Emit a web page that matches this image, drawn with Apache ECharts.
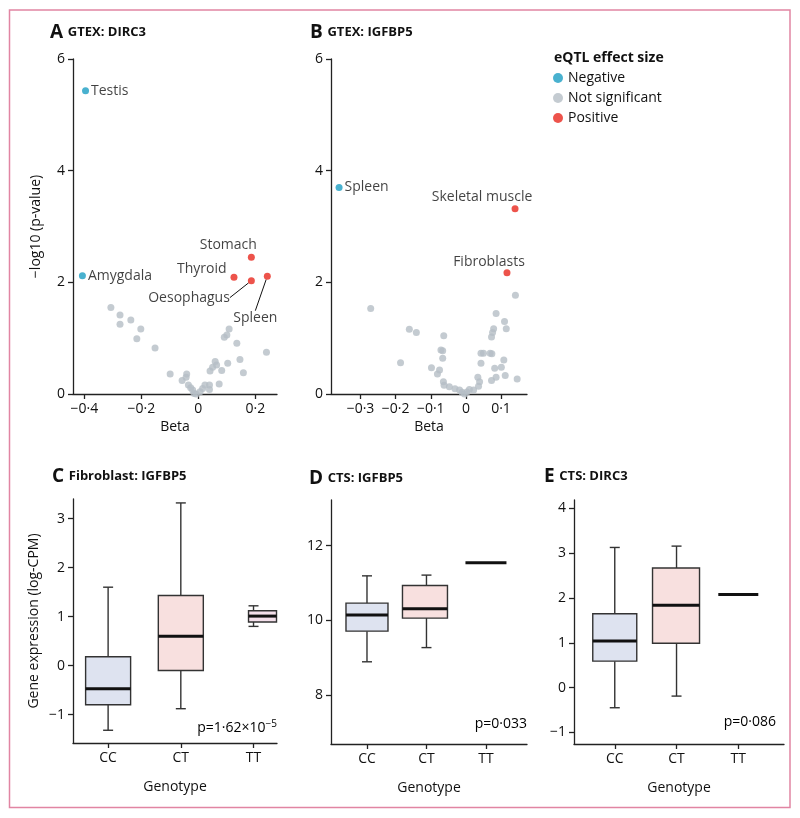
<!DOCTYPE html>
<html><head><meta charset="utf-8">
<script src="https://cdn.jsdelivr.net/npm/echarts@6/dist/echarts.min.js"></script>
<style>html,body{margin:0;padding:0;background:#fff}#c{width:800px;height:818px}</style>
</head><body><div id="c"></div>
<script>
// ---------- DATA ----------
// Panel A: GTEX DIRC3  (beta, -log10 p)
const dircNotSig = [[-0.307,1.55],[-0.275,1.415],[-0.275,1.25],[-0.237,1.325],[-0.202,1.164],[-0.216,0.99],[-0.152,0.824],[-0.099,0.358],[-0.057,0.24],[-0.041,0.358],[-0.043,0.30],[-0.035,0.16],[-0.027,0.11],[-0.020,0.07],[-0.015,0.01],[-0.008,0.0],[0.006,0.04],[0.015,0.10],[0.023,0.16],[0.039,0.08],[0.039,0.16],[0.073,0.18],[0.041,0.41],[0.050,0.48],[0.059,0.58],[0.064,0.52],[0.082,0.42],[0.103,0.55],[0.091,1.015],[0.100,1.057],[0.108,1.164],[0.135,0.908],[0.146,0.62],[0.158,0.38],[0.239,0.747]];
const dircSigTissue = ['Testis','Amygdala','Stomach','Thyroid','Oesophagus','Spleen'];
const dircSigBeta = [-0.396,-0.407,0.186,0.125,0.186,0.242];
const dircSigLogP = [5.43,2.12,2.45,2.09,2.03,2.11];
const dircSigEffect = ['Negative','Negative','Positive','Positive','Positive','Positive'];

// Panel B: GTEX IGFBP5
const igfNotSig = [[-0.271,1.53],[-0.186,0.56],[-0.161,1.16],[-0.141,1.10],[-0.098,0.47],[-0.075,0.43],[-0.081,0.36],[-0.063,1.045],[-0.071,0.79],[-0.066,0.776],[-0.066,0.64],[-0.064,0.22],[-0.062,0.155],[-0.047,0.13],[-0.031,0.095],[-0.018,0.07],[-0.011,0.03],[-0.004,0.0],[0.003,0.035],[0.010,0.08],[0.022,0.07],[0.036,0.14],[0.039,0.22],[0.034,0.30],[0.043,0.55],[0.043,0.73],[0.050,0.73],[0.069,0.73],[0.074,0.72],[0.073,1.02],[0.076,1.10],[0.079,1.17],[0.086,1.44],[0.082,0.46],[0.086,0.30],[0.073,0.24],[0.101,0.48],[0.108,0.61],[0.112,0.33],[0.110,1.30],[0.115,1.17],[0.141,1.77],[0.146,0.27]];
const igfSigTissue = ['Spleen','Skeletal muscle','Fibroblasts'];
const igfSigBeta = [-0.361,0.140,0.117];
const igfSigLogP = [3.70,3.32,2.17];
const igfSigEffect = ['Negative','Positive','Positive'];

// Box plots: [lower whisker, Q1, median, Q3, upper whisker]
const genotypes = ['CC','CT','TT'];
const fibroIgfbp5 = [[-1.32,-0.80,-0.475,0.18,1.60],[-0.88,-0.10,0.60,1.43,3.32],[0.80,0.89,1.01,1.12,1.22]];
const ctsIgfbp5 = [[8.89,9.71,10.14,10.46,11.19],[9.27,10.06,10.31,10.93,11.21],[11.54,11.54,11.54,11.54,11.54]];
const ctsDirc3 = [[-0.45,0.59,1.04,1.65,3.13],[-0.19,0.99,1.84,2.67,3.16],[2.08,2.08,2.08,2.08,2.08]];

// tick values
const volcanoYTicks = [0,2,4,6];
const dircXTicks = [-0.4,-0.2,0,0.2];
const igfXTicks = [-0.3,-0.2,-0.1,0,0.1];
const fibroYTicks = [-1,0,1,2,3];
const ctsIgfYTicks = [8,10,12];
const ctsDircYTicks = [-1,0,1,2,3,4];
const genoTicks = [0,1,2];

// ---------- STYLE ----------
const FONT = 'Open Sans';
const INK = '#111';
const COL = {'Negative':'#1b9dc3','Not significant':'#b5bec6','Positive':'#e8281e'};
const fmt = v => String(v).replace('-', '\u2212').replace('.', '\u00b7');

const labelStyle = {
  'Testis':      {position:'right', distance:2},
  'Amygdala':    {position:'right', distance:2},
  'Stomach':     {position:'left', dx:14, dy:-12},
  'Thyroid':     {position:'left', distance:4, dy:-8},
  'Oesophagus':  {position:'left', dx:-13, dy:17, line:true},
  'Spleen':      {position:'bottom', dx:-12, dy:26, line:true},
  'Spleen ':     {position:'right', distance:2},
  'Skeletal muscle': {position:'top', dx:-33, dy:4},
  'Fibroblasts': {position:'top', dx:-18, dy:5}
};
// key used for label lookup (B's spleen differs from A's)
function styleKey(panel, t) { return (panel === 'B' && t === 'Spleen') ? 'Spleen ' : t; }

function sigItems(panel, tissues, betas, logps, effects, which) {
  const out = [];
  tissues.forEach((t, i) => {
    if (effects[i] !== which) return;
    const s = labelStyle[styleKey(panel, t)] || {};
    out.push({
      name: styleKey(panel, t), value: [betas[i], logps[i]],
      label: {show:true, formatter: t, position: s.position, distance: s.distance == null ? 5 : s.distance,
              color: INK, fontSize: 14, fontFamily: FONT},
      labelLine: s.line ? {show:true, lineStyle:{color:INK, width:1}} : {show:false}
    });
  });
  return out;
}
function sigLayout(data) {
  return function(params) {
    const item = data[params.dataIndex];
    const s = labelStyle[item.name] || {};
    return {dx: s.dx || 0, dy: s.dy || 0};
  };
}

const grids = [
  {left:73, top:59, width:204, height:335},
  {left:331, top:59, width:196, height:335},
  {left:73, top:499, width:204, height:244},
  {left:331, top:500, width:196, height:244},
  {left:574, top:500, width:210, height:244}
];

function axisBase(extra) {
  return Object.assign({
    axisLine:{show:true, onZero:false, lineStyle:{color:'#222', width:1.3}},
    axisTick:{show:true, inside:false, length:5, lineStyle:{color:'#222', width:1.3}},
    axisLabel:{color:INK, fontSize:14, fontFamily:FONT, margin:8},
    splitLine:{show:false},
    nameTextStyle:{color:INK, fontSize:14, fontFamily:FONT},
    nameLocation:'middle'
  }, extra);
}
function withTicks(ax, ticks, formatter) {
  ax.axisTick.customValues = ticks;
  ax.axisLabel.customValues = ticks;
  ax.axisLabel.formatter = formatter;
  return ax;
}

const xAxes = [
  withTicks(axisBase({gridIndex:0, type:'value', min:-0.44, max:0.276, name:'Beta', nameGap:26}), dircXTicks, fmt),
  withTicks(axisBase({gridIndex:1, type:'value', min:-0.384, max:0.174, name:'Beta', nameGap:26}), igfXTicks, fmt),
  withTicks(axisBase({gridIndex:2, type:'value', min:-0.483, max:2.323, name:'Genotype', nameGap:37}), genoTicks, v => genotypes[v]),
  withTicks(axisBase({gridIndex:3, type:'value', min:-0.605, max:2.69, name:'Genotype', nameGap:37}), genoTicks, v => genotypes[v]),
  withTicks(axisBase({gridIndex:4, type:'value', min:-0.66, max:2.74, name:'Genotype', nameGap:37}), genoTicks, v => genotypes[v])
];
const yAxes = [
  withTicks(axisBase({gridIndex:0, type:'value', min:0, max:6, name:'\u2212log10 (p-value)', nameGap:30}), volcanoYTicks, fmt),
  withTicks(axisBase({gridIndex:1, type:'value', min:0, max:6}), volcanoYTicks, fmt),
  withTicks(axisBase({gridIndex:2, type:'value', min:-1.58, max:3.4, name:'Gene expression (log-CPM)', nameGap:32}), fibroYTicks, fmt),
  withTicks(axisBase({gridIndex:3, type:'value', min:6.69, max:13.22}), ctsIgfYTicks, fmt),
  withTicks(axisBase({gridIndex:4, type:'value', min:-1.26, max:4.19}), ctsDircYTicks, fmt)
];

const boxStyles = [
  {fill:['#dee3f0','#f8e0df','#f3dfea'], box:[[-22.5,22.5],[-22.5,22.5],[-5,23]]},
  {fill:['#dee3f0','#f8e0df','#f3dfea'], box:[[-21,21],[-24,21],[-20.5,20.5]]},
  {fill:['#dee3f0','#f8e0df','#f3dfea'], box:[[-22,22],[-24,23],[-20,20]]}
];

function boxRender(st) {
  return function(params, api) {
    const x = api.value(0);
    const lo = api.coord([x, api.value(1)]);
    const q1 = api.coord([x, api.value(2)])[1];
    const md = api.coord([x, api.value(3)])[1];
    const q3 = api.coord([x, api.value(4)])[1];
    const hi = api.coord([x, api.value(5)])[1];
    const cx = lo[0], ly = lo[1];
    const b = st.box[params.dataIndex];
    const ls = {stroke:'#333', lineWidth:1.4, fill:null};
    const ch = [];
    if (Math.abs(ly - hi) > 0.5) {
      ch.push({type:'line', shape:{x1:cx, y1:hi, x2:cx, y2:q3}, style:ls});
      ch.push({type:'line', shape:{x1:cx, y1:q1, x2:cx, y2:ly}, style:ls});
      ch.push({type:'line', shape:{x1:cx-5, y1:hi, x2:cx+5, y2:hi}, style:ls});
      ch.push({type:'line', shape:{x1:cx-5, y1:ly, x2:cx+5, y2:ly}, style:ls});
      ch.push({type:'rect', shape:{x:cx+b[0], y:q3, width:b[1]-b[0], height:q1-q3},
               style:{fill:st.fill[params.dataIndex], stroke:'#333', lineWidth:1.4}});
    }
    ch.push({type:'line', shape:{x1:cx+b[0], y1:md, x2:cx+b[1], y2:md}, style:{stroke:'#111', lineWidth:3}});
    return {type:'group', children:ch};
  };
}
function boxData(arr) { return arr.map((r, i) => [i].concat(r)); }

const aNeg = sigItems('A', dircSigTissue, dircSigBeta, dircSigLogP, dircSigEffect, 'Negative');
const aPos = sigItems('A', dircSigTissue, dircSigBeta, dircSigLogP, dircSigEffect, 'Positive');
const bNeg = sigItems('B', igfSigTissue, igfSigBeta, igfSigLogP, igfSigEffect, 'Negative');
const bPos = sigItems('B', igfSigTissue, igfSigBeta, igfSigLogP, igfSigEffect, 'Positive');

const series = [
  {type:'scatter', name:'Not significant', xAxisIndex:0, yAxisIndex:0, data:dircNotSig, symbolSize:7, itemStyle:{color:COL['Not significant']}},
  {type:'scatter', name:'Negative', xAxisIndex:0, yAxisIndex:0, data:aNeg, labelLayout:sigLayout(aNeg), symbolSize:7, itemStyle:{color:COL['Negative']}},
  {type:'scatter', name:'Positive', xAxisIndex:0, yAxisIndex:0, data:aPos, labelLayout:sigLayout(aPos), symbolSize:7, itemStyle:{color:COL['Positive']}},
  {type:'scatter', name:'Not significant', xAxisIndex:1, yAxisIndex:1, data:igfNotSig, symbolSize:7, itemStyle:{color:COL['Not significant']}},
  {type:'scatter', name:'Negative', xAxisIndex:1, yAxisIndex:1, data:bNeg, labelLayout:sigLayout(bNeg), symbolSize:7, itemStyle:{color:COL['Negative']}},
  {type:'scatter', name:'Positive', xAxisIndex:1, yAxisIndex:1, data:bPos, labelLayout:sigLayout(bPos), symbolSize:7, itemStyle:{color:COL['Positive']}},
  {type:'custom', xAxisIndex:2, yAxisIndex:2, data:boxData(fibroIgfbp5), renderItem:boxRender(boxStyles[0]), encode:{x:0, y:[1,2,3,4,5]}},
  {type:'custom', xAxisIndex:3, yAxisIndex:3, data:boxData(ctsIgfbp5), renderItem:boxRender(boxStyles[1]), encode:{x:0, y:[1,2,3,4,5]}},
  {type:'custom', xAxisIndex:4, yAxisIndex:4, data:boxData(ctsDirc3), renderItem:boxRender(boxStyles[2]), encode:{x:0, y:[1,2,3,4,5]}}
];

function panelTitle(letter, text, left, top) {
  return {left:left, top:top, padding:0, text:'{l|' + letter + '} {t|' + text + '}',
    textStyle:{rich:{l:{fontSize:19, fontWeight:'bold', color:'#111', fontFamily:FONT},
                     t:{fontSize:13, fontWeight:'bold', color:'#111', fontFamily:FONT}}}};
}
const pRich = {p:{fontSize:14, color:INK, fontFamily:FONT}, s:{fontSize:10, color:INK, fontFamily:FONT, padding:[0,0,8,0]}};

const option = {
  animation:false,
  textStyle:{fontFamily:FONT},
  title:[
    panelTitle('A', 'GTEX: DIRC3', 50, 23),
    panelTitle('B', 'GTEX: IGFBP5', 310, 23),
    panelTitle('C', 'Fibroblast: IGFBP5', 52, 467),
    panelTitle('D', 'CTS: IGFBP5', 309, 469),
    panelTitle('E', 'CTS: DIRC3', 544, 467),
    {left:554, top:51, padding:0, text:'eQTL effect size', textStyle:{fontSize:14, fontWeight:'bold', color:'#111', fontFamily:FONT}}
  ],
  legend:{left:553, top:71, orient:'vertical', itemWidth:10, itemHeight:10, itemGap:6, icon:'circle', padding:0,
    data:['Negative','Not significant','Positive'], textStyle:{fontSize:14, color:INK, fontFamily:FONT}, selectedMode:false},
  grid:grids,
  xAxis:xAxes,
  yAxis:yAxes,
  series:series,
  graphic:[
    {type:'rect', shape:{x:9.5, y:10, width:780.5, height:797.5}, style:{fill:null, stroke:'#e185a3', lineWidth:1.5}, silent:true},
    {type:'text', x:277, y:728, style:{text:'{p|p=1\u00b762\u00d710}{s|\u22125}', rich:pRich, align:'right', verticalAlign:'middle'}},
    {type:'text', x:527, y:724, style:{text:'{p|p=0\u00b7033}', rich:pRich, align:'right', verticalAlign:'middle'}},
    {type:'text', x:776, y:722, style:{text:'{p|p=0\u00b7086}', rich:pRich, align:'right', verticalAlign:'middle'}}
  ]
};
const chart = echarts.init(document.getElementById('c'), null, {renderer:'canvas'});
chart.setOption(option);
</script>
</body></html>
